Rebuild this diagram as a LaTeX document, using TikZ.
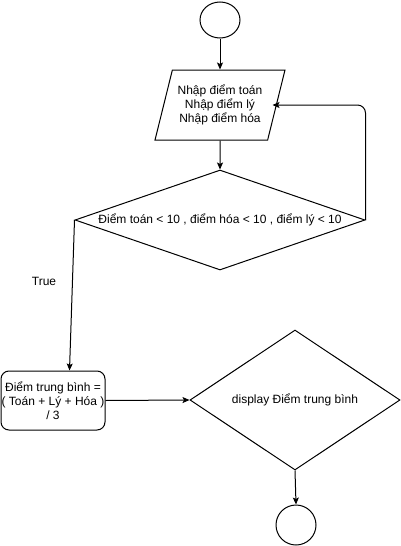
\documentclass[tikz,border=0pt]{standalone}
\usepackage{fontspec}
\setmainfont{Liberation Sans}
\usetikzlibrary{shapes.geometric,arrows.meta,calc}
\begin{document}
\begin{tikzpicture}[x=1pt,y=-1pt,line width=1pt,
  txt/.style={font=\fontsize{12}{14}\selectfont,align=center},
  conn/.style={draw,-{Stealth[length=7pt,width=6pt,inset=1.5pt]}},
  term/.style={draw,ellipse,inner sep=0pt},
  decision/.style={draw,diamond,inner sep=0pt,txt},
  iobox/.style={draw,trapezium,trapezium left angle=69,trapezium right angle=111,trapezium stretches=true,inner sep=0pt,txt},
  procbox/.style={draw,rectangle,rounded corners=8pt,inner sep=0pt,txt}]
\useasboundingbox (0,0) rectangle (401,546);
\node[term,minimum width=40pt,minimum height=36pt] (start) at (220,20) {};
\node[iobox,minimum width=130pt,minimum height=70pt] (input) at (220,105) {Nhập điểm toán\\Nhập điểm lý\\Nhập điểm hóa};
\node[decision,aspect=2.9,minimum width=290pt,minimum height=100pt] (cond) at (220,220) {Điểm toán < 10 , điểm hóa < 10 , điểm lý < 10};
\node[procbox,minimum width=104pt,minimum height=59pt] (avg) at (53,400.5) {Điểm trung bình =\\( Toán + Lý + Hóa )\\/ 3};
\node[decision,aspect=1.5,minimum width=210pt,minimum height=140pt] (disp) at (295,400) {display Điểm trung bình};
\node[term,minimum width=40pt,minimum height=40pt] (stop) at (296,525) {};
\coordinate (inright) at (272.5,105);
\coordinate (avgtop) at ($(avg.north west)+(69,0)$);
\node[txt] (truelbl) at (44,281) {True};
\draw[conn] (start) -- (input);
\draw[conn] (input) -- (cond);
\draw[conn,rounded corners=8pt] (cond.east) |- (inright);
\draw[conn] (cond.west) -- (avgtop);
\draw[conn] (avg.east) -- (disp.west);
\draw[conn] (disp.south) -- (stop.north);
\end{tikzpicture}
\end{document}
